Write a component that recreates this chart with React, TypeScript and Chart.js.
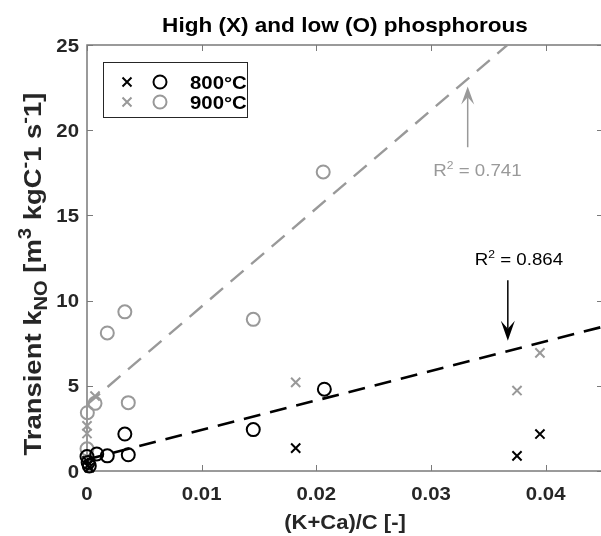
import { useEffect, useRef } from 'react';
import { Chart, registerables } from 'chart.js';

Chart.register(...registerables);

// ---- data ----
const xTicks = [0, 0.01, 0.02, 0.03, 0.04];
const xTickLabels = ['0', '0.01', '0.02', '0.03', '0.04'];
const yTicks = [0, 5, 10, 15, 20, 25];
const yTickLabels = ['0', '5', '10', '15', '20', '25'];

// 800°C, low phosphorous (O)
const lowP800X = [0, 0.0001, 0.0002, 0.00085, 0.00177, 0.0033, 0.0036, 0.0145, 0.0207];
const lowP800Y = [0.85, 0.5, 0.3, 1.0, 0.89, 2.17, 0.95, 2.43, 4.8];
// 800°C, high phosphorous (X)
const highP800X = [0, 0.0001, 0.0002, 0.0182, 0.0375, 0.0395];
const highP800Y = [0.6, 0.35, 0.2, 1.34, 0.89, 2.17];
// 900°C, low phosphorous (O)
const lowP900X = [0, 0.00003, 0.0007, 0.00177, 0.0033, 0.0036, 0.0145, 0.0206];
const lowP900Y = [1.3, 3.42, 3.97, 8.1, 9.34, 4.01, 8.9, 17.55];
// 900°C, high phosphorous (X)
const highP900X = [0, 0, 0.0007, 0.0182, 0.0375, 0.0395];
const highP900Y = [2.2, 2.65, 4.4, 5.2, 4.72, 6.93];

// regression lines
const fit800X = [0, 0.045];
const fit800Y = [0.68, 8.47];
const fit900X = [0, 0.045];
const fit900Y = [3.9, 29.8];

const r2Labels = ['0.864', '0.741'];

// ---- styles ----
const GRAY = '#999999';
const BLACK = '#000000';
const TEXT = '#262626';
const AXIS = '#7a7a7a';
const SX = 1.1;
const FONT = '"Liberation Sans", Arial, Helvetica, sans-serif';

const W = 640;
const H = 536;
const PLOT = { left: 87, right: 603, top: 45, bottom: 471 };

type Part = { t: string; size: number; bold?: boolean; dy?: number };

function fontOf(p: Part) {
  return `${p.bold ? 'bold ' : ''}${p.size}px ${FONT}`;
}

function drawParts(
  ctx: CanvasRenderingContext2D,
  parts: Part[],
  x: number,
  y: number,
  align: 'left' | 'center' | 'right',
  color: string,
  sx = SX,
  rotate = false
) {
  ctx.save();
  ctx.translate(x, y);
  if (rotate) ctx.rotate(-Math.PI / 2);
  ctx.scale(sx, 1);
  let total = 0;
  const widths = parts.map((p) => {
    ctx.font = fontOf(p);
    const w = ctx.measureText(p.t).width;
    total += w;
    return w;
  });
  let cx = align === 'left' ? 0 : align === 'center' ? -total / 2 : -total;
  ctx.fillStyle = color;
  ctx.textBaseline = 'alphabetic';
  ctx.textAlign = 'left';
  parts.forEach((p, i) => {
    ctx.font = fontOf(p);
    ctx.fillText(p.t, cx, p.dy ?? 0);
    cx += widths[i];
  });
  ctx.restore();
}

function drawCross(ctx: CanvasRenderingContext2D, x: number, y: number, r: number, color: string) {
  ctx.save();
  ctx.strokeStyle = color;
  ctx.lineWidth = 2;
  ctx.beginPath();
  ctx.moveTo(x - r, y - r);
  ctx.lineTo(x + r, y + r);
  ctx.moveTo(x - r, y + r);
  ctx.lineTo(x + r, y - r);
  ctx.stroke();
  ctx.restore();
}

function drawCircle(ctx: CanvasRenderingContext2D, x: number, y: number, r: number, color: string) {
  ctx.save();
  ctx.strokeStyle = color;
  ctx.lineWidth = 2;
  ctx.beginPath();
  ctx.arc(x, y, r, 0, Math.PI * 2);
  ctx.stroke();
  ctx.restore();
}

function drawArrow(
  ctx: CanvasRenderingContext2D,
  x: number,
  yTail: number,
  yTip: number,
  color: string,
  headLen: number,
  headHalf: number
) {
  ctx.save();
  ctx.strokeStyle = color;
  ctx.fillStyle = color;
  ctx.lineWidth = 1.5;
  const dir = yTip > yTail ? 1 : -1;
  ctx.beginPath();
  ctx.moveTo(x, yTail);
  ctx.lineTo(x, yTip - dir * headLen * 0.6);
  ctx.stroke();
  ctx.beginPath();
  ctx.moveTo(x, yTip);
  ctx.lineTo(x - headHalf, yTip - dir * headLen);
  ctx.lineTo(x, yTip - dir * headLen * 0.6);
  ctx.lineTo(x + headHalf, yTip - dir * headLen);
  ctx.closePath();
  ctx.fill();
  ctx.restore();
}

const decor = {
  id: 'decor',
  beforeDraw(chart: any) {
    const ctx = chart.ctx as CanvasRenderingContext2D;
    ctx.save();
    ctx.fillStyle = '#ffffff';
    ctx.fillRect(0, 0, chart.width, chart.height);
    ctx.restore();
  },
  beforeDatasetsDraw(chart: any) {
    const ctx = chart.ctx as CanvasRenderingContext2D;
    const { left, right, top, bottom } = chart.chartArea;
    const xs = chart.scales.x;
    const ys = chart.scales.y;
    ctx.save();
    ctx.strokeStyle = AXIS;
    ctx.lineWidth = 1.5;
    ctx.strokeRect(left, top, right - left, bottom - top);
    ctx.beginPath();
    const tl = 6;
    xTicks.forEach((v) => {
      const px = Math.round(xs.getPixelForValue(v)) + 0.5;
      ctx.moveTo(px, bottom);
      ctx.lineTo(px, bottom - tl);
      ctx.moveTo(px, top);
      ctx.lineTo(px, top + tl);
    });
    yTicks.forEach((v) => {
      const py = Math.round(ys.getPixelForValue(v)) + 0.5;
      ctx.moveTo(left, py);
      ctx.lineTo(left + tl, py);
      ctx.moveTo(right, py);
      ctx.lineTo(right - tl, py);
    });
    ctx.lineWidth = 1;
    ctx.stroke();
    ctx.restore();

    // tick labels
    xTicks.forEach((v, i) => {
      const px = xs.getPixelForValue(v);
      drawParts(ctx, [{ t: xTickLabels[i], size: 18.5, bold: true }], px, bottom + 29, 'center', TEXT);
    });
    yTicks.forEach((v, i) => {
      const py = ys.getPixelForValue(v);
      drawParts(ctx, [{ t: yTickLabels[i], size: 18.5, bold: true }], left - 8, py + 6.6, 'right', TEXT);
    });

    // title
    drawParts(
      ctx,
      [{ t: 'High (X) and low (O) phosphorous', size: 20.5, bold: true }],
      (left + right) / 2,
      32,
      'center',
      BLACK
    );
    // x label
    drawParts(ctx, [{ t: '(K+Ca)/C [-]', size: 20, bold: true }], (left + right) / 2, 529, 'center', TEXT);
    // y label
    const ys1 = 24.5;
    const ss = 18;
    drawParts(
      ctx,
      [
        { t: 'Transient k', size: ys1, bold: true },
        { t: 'NO', size: ss, bold: true, dy: 6 },
        { t: ' [m', size: ys1, bold: true },
        { t: '3', size: ss, bold: true, dy: -10 },
        { t: ' kgC', size: ys1, bold: true },
        { t: '-', size: ss, bold: true, dy: -10 },
        { t: '1 s', size: ys1, bold: true },
        { t: '-', size: ss, bold: true, dy: -10 },
        { t: '1]', size: ys1, bold: true },
      ],
      41,
      274,
      'center',
      TEXT,
      1.12,
      true
    );
  },
  afterDatasetsDraw(chart: any) {
    const ctx = chart.ctx as CanvasRenderingContext2D;
    const xs = chart.scales.x;
    const ys = chart.scales.y;

    // legend
    const lx = 103;
    const ly = 62;
    const lw = 144;
    const lh = 55;
    ctx.save();
    ctx.fillStyle = '#ffffff';
    ctx.fillRect(lx, ly, lw, lh);
    ctx.strokeStyle = '#262626';
    ctx.lineWidth = 1;
    ctx.strokeRect(lx + 0.5, ly + 0.5, lw, lh);
    ctx.restore();
    const rows: [string, string, number][] = [
      ['800°C', BLACK, 82],
      ['900°C', GRAY, 102],
    ];
    rows.forEach(([label, color, y]) => {
      drawCross(ctx, 127, y, 4.5, color);
      drawCircle(ctx, 160, y, 6.5, color);
      drawParts(ctx, [{ t: label, size: 18.5, bold: true }], 190, y + 6.6, 'left', BLACK);
    });

    // annotations
    const gX = xs.getPixelForValue(0.0332);
    drawArrow(ctx, gX, ys.getPixelForValue(19.0), ys.getPixelForValue(22.57), GRAY, 18, 6.5);
    drawParts(
      ctx,
      [
        { t: 'R', size: 17 },
        { t: '2', size: 11, dy: -7 },
        { t: ' = ' + r2Labels[1], size: 17 },
      ],
      xs.getPixelForValue(0.0379),
      ys.getPixelForValue(17.3),
      'right',
      GRAY
    );
    const bX = xs.getPixelForValue(0.0367);
    drawArrow(ctx, bX, ys.getPixelForValue(11.2), ys.getPixelForValue(7.64), BLACK, 20, 7);
    drawParts(
      ctx,
      [
        { t: 'R', size: 17 },
        { t: '2', size: 11, dy: -7 },
        { t: ' = ' + r2Labels[0], size: 17 },
      ],
      xs.getPixelForValue(0.03767),
      ys.getPixelForValue(12.09),
      'center',
      BLACK
    );
  },
};

const toPts = (xs: number[], ys: number[]) => xs.map((x, i) => ({ x, y: ys[i] }));

export default function App() {
  const ref = useRef<HTMLCanvasElement | null>(null);

  useEffect(() => {
    const canvas = ref.current;
    if (!canvas) return;
    const chart = new Chart(canvas, {
      type: 'scatter',
      data: {
        datasets: [
          {
            data: toPts(fit800X, fit800Y),
            showLine: true,
            borderColor: BLACK,
            borderWidth: 2.6,
            borderDash: [17, 10],
            pointRadius: 0,
          },
          {
            data: toPts(fit900X, fit900Y),
            showLine: true,
            borderColor: GRAY,
            borderWidth: 2.4,
            borderDash: [17, 10],
            pointRadius: 0,
          },
          {
            data: toPts(lowP800X, lowP800Y),
            pointStyle: 'circle',
            pointRadius: 6.5,
            borderWidth: 2,
            borderColor: BLACK,
            backgroundColor: 'rgba(0,0,0,0)',
            clip: false,
          },
          {
            data: toPts(highP800X, highP800Y),
            pointStyle: 'crossRot',
            pointRadius: 6.5,
            borderWidth: 2,
            borderColor: BLACK,
            clip: false,
          },
          {
            data: toPts(lowP900X, lowP900Y),
            pointStyle: 'circle',
            pointRadius: 6.5,
            borderWidth: 2,
            borderColor: GRAY,
            backgroundColor: 'rgba(0,0,0,0)',
            clip: false,
          },
          {
            data: toPts(highP900X, highP900Y),
            pointStyle: 'crossRot',
            pointRadius: 6.5,
            borderWidth: 2,
            borderColor: GRAY,
            clip: false,
          },
        ] as any,
      },
      options: {
        responsive: false,
        animation: false,
        devicePixelRatio: 1,
        events: [],
        layout: {
          padding: {
            left: PLOT.left,
            right: W - PLOT.right,
            top: PLOT.top,
            bottom: H - PLOT.bottom,
          },
        },
        scales: {
          x: { type: 'linear', min: 0, max: 0.045, display: false },
          y: { type: 'linear', min: 0, max: 25, display: false },
        },
        plugins: {
          legend: { display: false },
          tooltip: { enabled: false },
          title: { display: false },
        },
      } as any,
      plugins: [decor],
    });
    return () => chart.destroy();
  }, []);

  return (
    <div
      style={{
        position: 'fixed',
        left: 0,
        top: 0,
        width: 601,
        height: 536,
        overflow: 'hidden',
        background: '#ffffff',
      }}
    >
      <canvas ref={ref} width={W} height={H} style={{ width: W, height: H, display: 'block' }} />
    </div>
  );
}
